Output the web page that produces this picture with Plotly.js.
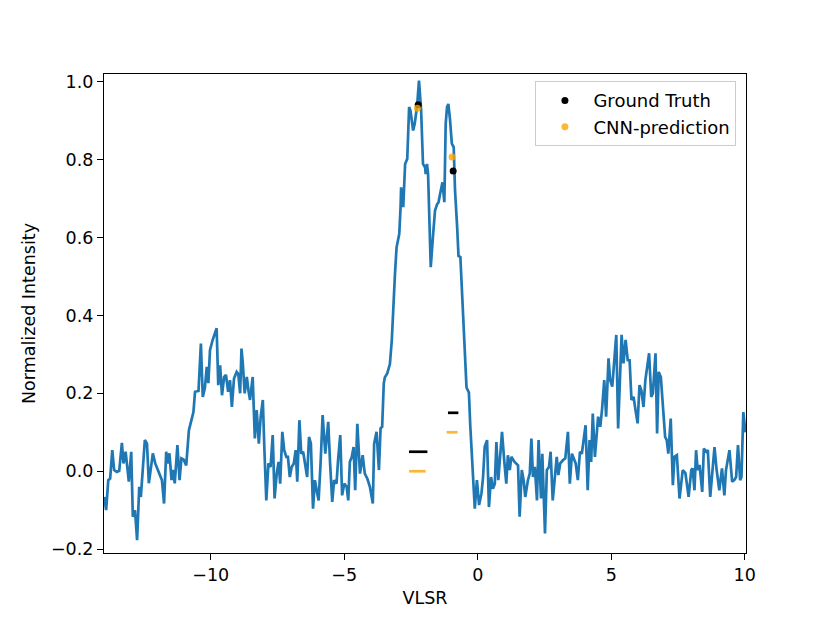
<!DOCTYPE html>
<html>
<head>
<meta charset="utf-8">
<script src="https://cdn.plot.ly/plotly-3.0.1.min.js"></script>
<style>html,body{margin:0;padding:0;background:#fff;}#chart{width:830px;height:623px;}</style>
</head>
<body>
<div id="chart"></div>
<script>
// Spectrum (VLSR in km/s, normalized intensity)
const vlsr = [-13.99,-13.92,-13.84,-13.77,-13.69,-13.62,-13.52,-13.43,-13.33,-13.27,-13.19,-13.07,-12.98,-12.92,-12.84,-12.76,-12.68,-12.62,-12.47,-12.39,-12.32,-12.17,-12.08,-11.92,-11.83,-11.75,-11.67,-11.61,-11.55,-11.47,-11.42,-11.35,-11.25,-11.17,-11.10,-11.02,-10.92,-10.82,-10.75,-10.65,-10.59,-10.46,-10.37,-10.30,-10.22,-10.15,-10.09,-10.03,-9.93,-9.81,-9.78,-9.72,-9.65,-9.58,-9.50,-9.43,-9.35,-9.28,-9.21,-9.13,-9.03,-8.97,-8.90,-8.85,-8.80,-8.73,-8.65,-8.59,-8.53,-8.43,-8.35,-8.28,-8.20,-8.13,-8.05,-7.99,-7.92,-7.84,-7.76,-7.68,-7.61,-7.53,-7.46,-7.40,-7.32,-7.25,-7.17,-7.11,-7.04,-6.97,-6.89,-6.82,-6.76,-6.68,-6.61,-6.54,-6.39,-6.32,-6.25,-6.17,-6.10,-6.03,-5.96,-5.88,-5.81,-5.71,-5.60,-5.53,-5.45,-5.38,-5.29,-5.23,-5.15,-5.08,-5.00,-4.91,-4.85,-4.79,-4.72,-4.65,-4.59,-4.51,-4.41,-4.31,-4.23,-4.13,-4.04,-3.93,-3.88,-3.79,-3.70,-3.64,-3.58,-3.52,-3.48,-3.39,-3.29,-3.22,-3.17,-3.10,-3.04,-2.94,-2.89,-2.87,-2.79,-2.77,-2.72,-2.64,-2.57,-2.52,-2.42,-2.36,-2.27,-2.20,-2.12,-2.05,-1.97,-1.95,-1.90,-1.86,-1.82,-1.76,-1.67,-1.60,-1.52,-1.47,-1.41,-1.32,-1.25,-1.20,-1.15,-1.10,-1.04,-0.97,-0.90,-0.85,-0.77,-0.72,-0.65,-0.60,-0.52,-0.42,-0.33,-0.28,-0.11,-0.03,0.05,0.14,0.20,0.26,0.35,0.42,0.50,0.57,0.64,0.70,0.77,0.84,0.91,0.99,1.07,1.13,1.20,1.26,1.32,1.38,1.51,1.57,1.65,1.72,1.78,1.88,1.95,2.01,2.07,2.14,2.22,2.28,2.37,2.42,2.52,2.59,2.67,2.73,2.81,2.89,2.96,3.02,3.09,3.19,3.28,3.38,3.45,3.53,3.59,3.67,3.75,3.83,3.90,4.04,4.12,4.19,4.25,4.31,4.39,4.45,4.51,4.59,4.66,4.74,4.81,4.90,4.96,5.04,5.11,5.19,5.26,5.32,5.39,5.46,5.54,5.62,5.69,5.76,5.84,5.91,5.99,6.06,6.13,6.21,6.28,6.42,6.50,6.56,6.66,6.72,6.78,6.86,6.93,7.02,7.08,7.14,7.23,7.31,7.37,7.46,7.56,7.68,7.78,7.90,8.00,8.05,8.12,8.18,8.24,8.31,8.41,8.47,8.56,8.62,8.71,8.78,8.87,8.95,9.05,9.15,9.24,9.30,9.43,9.53,9.61,9.68,9.75,9.83,9.88,9.95,10.03];
const intensity = [-0.066,-0.10,-0.023,-0.019,0.054,0.003,-0.002,0.001,0.073,0.02,0.05,-0.027,0.05,-0.117,-0.10,-0.177,-0.04,-0.066,0.08,0.071,-0.031,0.046,0.02,-0.006,-0.023,-0.083,0.05,0.02,0.046,-0.023,0.003,-0.031,0.067,-0.023,0.033,0.03,0.015,0.105,0.122,0.152,0.204,0.206,0.328,0.191,0.214,0.268,0.226,0.311,0.337,0.362,0.367,0.221,0.272,0.195,0.242,0.247,0.204,0.234,0.165,0.238,0.255,0.25,0.20,0.315,0.277,0.20,0.242,0.208,0.183,0.242,0.084,0.157,0.071,0.14,0.183,0.054,-0.075,0.02,0.011,0.093,-0.07,-0.006,0.024,-0.032,0.101,0.054,0.037,0.037,-0.015,0.011,0.02,0.054,-0.027,0.131,0.045,0.05,-0.015,0.088,0.071,-0.096,-0.023,-0.05,-0.075,0.03,0.144,0.045,0.127,0.02,-0.079,-0.023,-0.032,0.03,0.093,-0.062,-0.032,-0.04,-0.075,0.024,0.036,0.062,-0.049,0.122,-0.006,0.041,-0.006,-0.02,-0.04,-0.083,0.071,0.101,0.003,0.11,0.114,0.225,0.241,0.251,0.275,0.335,0.421,0.506,0.575,0.609,0.678,0.729,0.678,0.729,0.789,0.802,0.935,0.926,0.875,0.892,0.939,1.003,0.926,0.789,0.78,0.763,0.789,0.763,0.661,0.524,0.609,0.669,0.686,0.69,0.712,0.742,0.691,0.892,0.935,0.943,0.905,0.841,0.832,0.721,0.626,0.553,0.55,0.472,0.335,0.215,0.202,0.118,-0.096,-0.023,-0.087,-0.057,-0.015,0.062,0.08,-0.092,-0.015,-0.045,-0.032,0.075,-0.023,0.04,0.101,0.03,-0.032,0.041,0.003,0.037,0.03,0.024,0.015,-0.117,0.003,-0.023,-0.066,-0.023,-0.006,0.084,-0.015,0.011,-0.075,0.08,-0.07,0.045,-0.16,0.003,0.011,0.05,-0.075,-0.006,0.037,-0.01,0.02,0.028,0.033,0.101,-0.032,0.045,0.032,0.02,-0.023,0.05,0.045,0.118,-0.049,0.08,0.024,0.148,0.037,0.09,0.14,0.114,0.161,0.234,0.14,0.29,0.234,0.217,0.28,0.35,0.11,0.23,0.35,0.277,0.337,0.285,0.285,0.183,0.191,0.157,0.123,0.221,0.208,0.165,0.234,0.303,0.191,0.20,0.303,0.097,0.255,0.242,0.183,0.088,0.08,0.045,0.135,-0.036,0.037,0.041,-0.07,0.003,-0.005,-0.066,0.003,0.007,-0.049,0.054,0.003,0.016,-0.053,0.058,0.05,0.054,-0.066,-0.006,0.062,0.003,-0.049,0.007,-0.062,0.003,0.054,-0.027,-0.023,-0.015,0.067,-0.023,-0.015,0.152,0.10];

// Fitted components: peak position, peak amplitude, width marker level, width
const gtCenter = [-2.23, -0.92];
const gtAmp = [0.941, 0.771];
const gtLevel = [0.05, 0.15];
const gtWidth = [0.69, 0.39];
const cnnCenter = [-2.26, -0.96];
const cnnAmp = [0.932, 0.807];
const cnnLevel = [0.0, 0.10];
const cnnWidth = [0.62, 0.41];

function segments(centers, widths, levels) {
  const xs = [], ys = [];
  for (let i = 0; i < centers.length; i++) {
    xs.push(centers[i] - widths[i] / 2, centers[i] + widths[i] / 2, null);
    ys.push(levels[i], levels[i], null);
  }
  return {xs, ys};
}
const gtSeg = segments(gtCenter, gtWidth, gtLevel);
const cnnSeg = segments(cnnCenter, cnnWidth, cnnLevel);

const orange = 'rgba(255,165,0,0.8)';
const traces = [
  {x: vlsr, y: intensity, type: 'scatter', mode: 'lines', line: {color: '#1f77b4', width: 2.7}, showlegend: false, hoverinfo: 'skip'},
  {x: gtSeg.xs, y: gtSeg.ys, type: 'scatter', mode: 'lines', line: {color: '#000', width: 2.7}, showlegend: false},
  {x: cnnSeg.xs, y: cnnSeg.ys, type: 'scatter', mode: 'lines', line: {color: orange, width: 2.7}, showlegend: false},
  {x: gtCenter, y: gtAmp, type: 'scatter', mode: 'markers', name: 'Ground Truth', marker: {color: '#000', size: 7}},
  {x: cnnCenter, y: cnnAmp, type: 'scatter', mode: 'markers', name: 'CNN-prediction', marker: {color: orange, size: 7}}
];

const F = 'DejaVu Sans';
const axisCommon = {
  showgrid: false, zeroline: false, showline: true, linecolor: '#000', linewidth: 1.1,
  mirror: true, ticks: 'outside', ticklen: 6, tickwidth: 1.1, tickcolor: '#000',
  tickfont: {family: F, size: 17.5, color: '#000'}
};

const layout = {
  width: 830, height: 623,
  margin: {l: 104, r: 84, t: 74, b: 70},
  paper_bgcolor: '#fff', plot_bgcolor: '#fff',
  font: {family: F, size: 17.5, color: '#000'},
  xaxis: Object.assign({}, axisCommon, {
    range: [-14, 10.05], tickvals: [-10, -5, 0, 5, 10],
    title: {text: 'VLSR', font: {family: F, size: 17.5, color: '#000'}, standoff: 7}
  }),
  yaxis: Object.assign({}, axisCommon, {
    range: [-0.21, 1.02], tickvals: [-0.2, 0, 0.2, 0.4, 0.6, 0.8, 1.0], tickformat: '.1f',
    title: {text: 'Normalized Intensity', font: {family: F, size: 17.5, color: '#000'}, standoff: 10}
  }),
  legend: {
    x: 0.672, y: 0.985, xanchor: 'left', yanchor: 'top',
    bordercolor: '#ccc', borderwidth: 1, bgcolor: 'rgba(255,255,255,0.8)',
    font: {family: F, size: 18, color: '#000'}, itemwidth: 47
  },
  showlegend: true
};

Plotly.newPlot('chart', traces, layout, {displayModeBar: false, staticPlot: true});
</script>
</body>
</html>
